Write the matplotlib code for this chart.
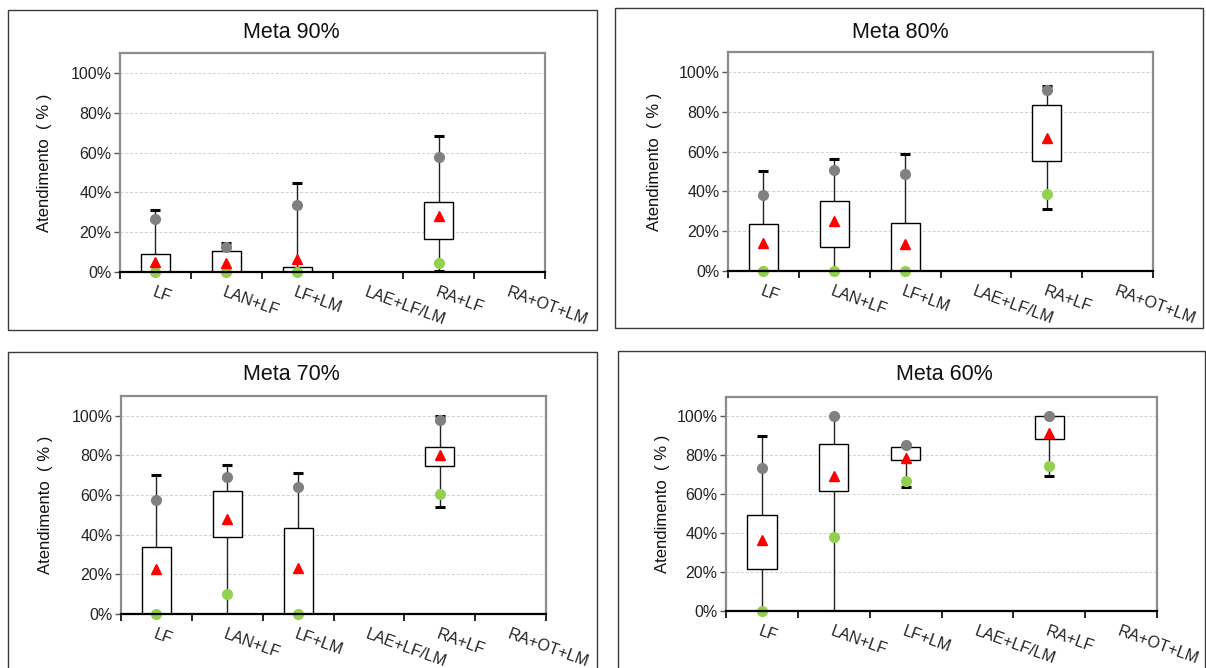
import numpy as np
import matplotlib.pyplot as plt
from matplotlib.patches import Rectangle

plt.rcParams['font.family'] = ['Liberation Sans', 'DejaVu Sans']

categorias = ['LF', 'LAN+LF', 'LF+LM', 'LAE+LF/LM', 'RA+LF', 'RA+OT+LM']
nan = np.nan

# Meta 90%
m90_hi = [0.31, 0.145, 0.447, nan, 0.683, nan]
m90_cinza = [0.265, 0.126, 0.337, nan, 0.578, nan]
m90_q3 = [0.092, 0.104, 0.023, nan, 0.352, nan]
m90_q1 = [0.0, 0.0, 0.0, nan, 0.166, nan]
m90_media = [0.05, 0.045, 0.065, nan, 0.283, nan]
m90_verde = [0.0, 0.0, 0.0, nan, 0.045, nan]
m90_lo = [0.0, 0.0, 0.0, nan, 0.003, nan]

# Meta 80%
m80_hi = [0.502, 0.562, 0.589, nan, 0.931, nan]
m80_cinza = [0.381, 0.507, 0.485, nan, 0.908, nan]
m80_q3 = [0.235, 0.351, 0.242, nan, 0.832, nan]
m80_q1 = [0.0, 0.121, 0.0, nan, 0.554, nan]
m80_media = [0.139, 0.25, 0.134, nan, 0.668, nan]
m80_verde = [0.0, 0.0, 0.0, nan, 0.388, nan]
m80_lo = [0.0, 0.0, 0.0, nan, 0.309, nan]

# Meta 70%
m70_hi = [0.702, 0.751, 0.712, nan, 1.0, nan]
m70_cinza = [0.575, 0.691, 0.64, nan, 0.978, nan]
m70_q3 = [0.338, 0.62, 0.436, nan, 0.841, nan]
m70_q1 = [0.0, 0.388, 0.0, nan, 0.749, nan]
m70_media = [0.229, 0.478, 0.232, nan, 0.803, nan]
m70_verde = [0.0, 0.1, 0.0, nan, 0.604, nan]
m70_lo = [0.0, 0.0, 0.0, nan, 0.538, nan]

# Meta 60%
m60_hi = [0.899, 1.0, 0.853, nan, 1.0, nan]
m60_cinza = [0.737, 1.0, 0.852, nan, 1.0, nan]
m60_q3 = [0.495, 0.857, 0.841, nan, 1.0, nan]
m60_q1 = [0.217, 0.618, 0.775, nan, 0.886, nan]
m60_media = [0.363, 0.696, 0.785, nan, 0.913, nan]
m60_verde = [0.0, 0.381, 0.666, nan, 0.747, nan]
m60_lo = [0.0, 0.0, 0.637, nan, 0.695, nan]

W, H = 1206, 668
fig = plt.figure(figsize=(W / 100, H / 100), dpi=100)

# (titulo, dados, eixo [x0, x1, y_topo, y_zero] em px, moldura [x0, x1, y0, y1], titulo (x, y), ylabel x)
paineis = [
    ('Meta 90%', (m90_hi, m90_cinza, m90_q3, m90_q1, m90_media, m90_verde, m90_lo),
     (120, 545, 53, 272), (8, 597, 10, 330), (291, 33), 45),
    ('Meta 80%', (m80_hi, m80_cinza, m80_q3, m80_q1, m80_media, m80_verde, m80_lo),
     (728, 1153, 52, 271), (615, 1203, 8, 328), (900, 32), 654),
    ('Meta 70%', (m70_hi, m70_cinza, m70_q3, m70_q1, m70_media, m70_verde, m70_lo),
     (121, 546, 396, 614), (8, 597, 352, 680), (291, 374), 46),
    ('Meta 60%', (m60_hi, m60_cinza, m60_q3, m60_q1, m60_media, m60_verde, m60_lo),
     (726, 1157, 397, 611), (618, 1205, 351, 680), (944, 374), 662),
]

x = np.arange(len(categorias)) + 0.5
bw = 0.41

for titulo, dados, eixo, moldura, tpos, ylx in paineis:
    hi, cinza, q3, q1, media, verde, lo = [np.array(d, dtype=float) for d in dados]

    # moldura do grafico
    fx0, fx1, fy0, fy1 = moldura
    fig.patches.append(Rectangle((fx0 / W, 1 - fy1 / H), (fx1 - fx0) / W, (fy1 - fy0) / H,
                                 transform=fig.transFigure, fill=False,
                                 edgecolor='#3a3a3a', linewidth=1.0))

    ax0, ax1, ayt, ayz = eixo
    ax = fig.add_axes([ax0 / W, 1 - ayz / H, (ax1 - ax0) / W, (ayz - ayt) / H])
    ax.set_xlim(0, 6)
    ax.set_ylim(0, 1.1)

    ok = ~np.isnan(hi)
    # bigodes
    ax.vlines(x[ok], lo[ok], hi[ok], colors='#222222', linewidth=1.0, zorder=2)
    ax.hlines(hi[ok], x[ok] - 0.07, x[ok] + 0.07, colors='black', linewidth=2.2, zorder=3)
    ax.hlines(lo[ok], x[ok] - 0.07, x[ok] + 0.07, colors='black', linewidth=2.2, zorder=3)
    # caixas
    ax.bar(x[ok], (q3 - q1)[ok], bottom=q1[ok], width=bw, color='white',
           edgecolor='black', linewidth=1.0, zorder=4)
    # pontos
    ax.plot(x, cinza, 'o', color='#808080', markersize=7, zorder=5, linestyle='none')
    ax.plot(x, verde, 'o', color='#92D050', markersize=7, zorder=5, linestyle='none',
            clip_on=False)
    ax.plot(x, media, '^', color='#FF0000', markersize=7.5, zorder=6, linestyle='none')

    # grade e eixos
    ax.set_yticks(np.arange(0, 1.01, 0.2))
    ax.set_yticklabels(['%d%%' % round(v * 100) for v in np.arange(0, 1.01, 0.2)])
    ax.yaxis.grid(True, linestyle=(0, (3, 2)), color='#d0d0d0', linewidth=0.7)
    ax.set_axisbelow(True)
    ax.set_xticks(np.arange(0, 7))
    ax.set_xticklabels([])
    ax.set_xticks(x, minor=True)
    ax.set_xticklabels(categorias, minor=True, rotation=-20, ha='left', va='top',
                       rotation_mode='anchor', fontsize=11.5, color='#222222')
    ax.tick_params(axis='x', which='minor', length=0, pad=9)
    ax.tick_params(axis='x', which='major', length=5, width=1.2, color='black', direction='out')
    ax.tick_params(axis='y', length=4, width=1.0, color='#555555', labelsize=11.5,
                   labelcolor='#222222', pad=2)
    for s in ['top', 'right', 'left']:
        ax.spines[s].set_color('#8c8c8c')
        ax.spines[s].set_linewidth(1.6)
    ax.spines['bottom'].set_color('black')
    ax.spines['bottom'].set_linewidth(1.6)
    ax.spines['bottom'].set_zorder(7)

    fig.text(tpos[0] / W, 1 - tpos[1] / H, titulo, ha='center', va='center',
             fontsize=15.5, color='#111111')
    fig.text(ylx / W, 1 - ((ayt + ayz) / 2) / H, 'Atendimento  ( % )', rotation=90,
             ha='center', va='center', fontsize=12, color='#111111')

fig.savefig('out.png', dpi=100)
